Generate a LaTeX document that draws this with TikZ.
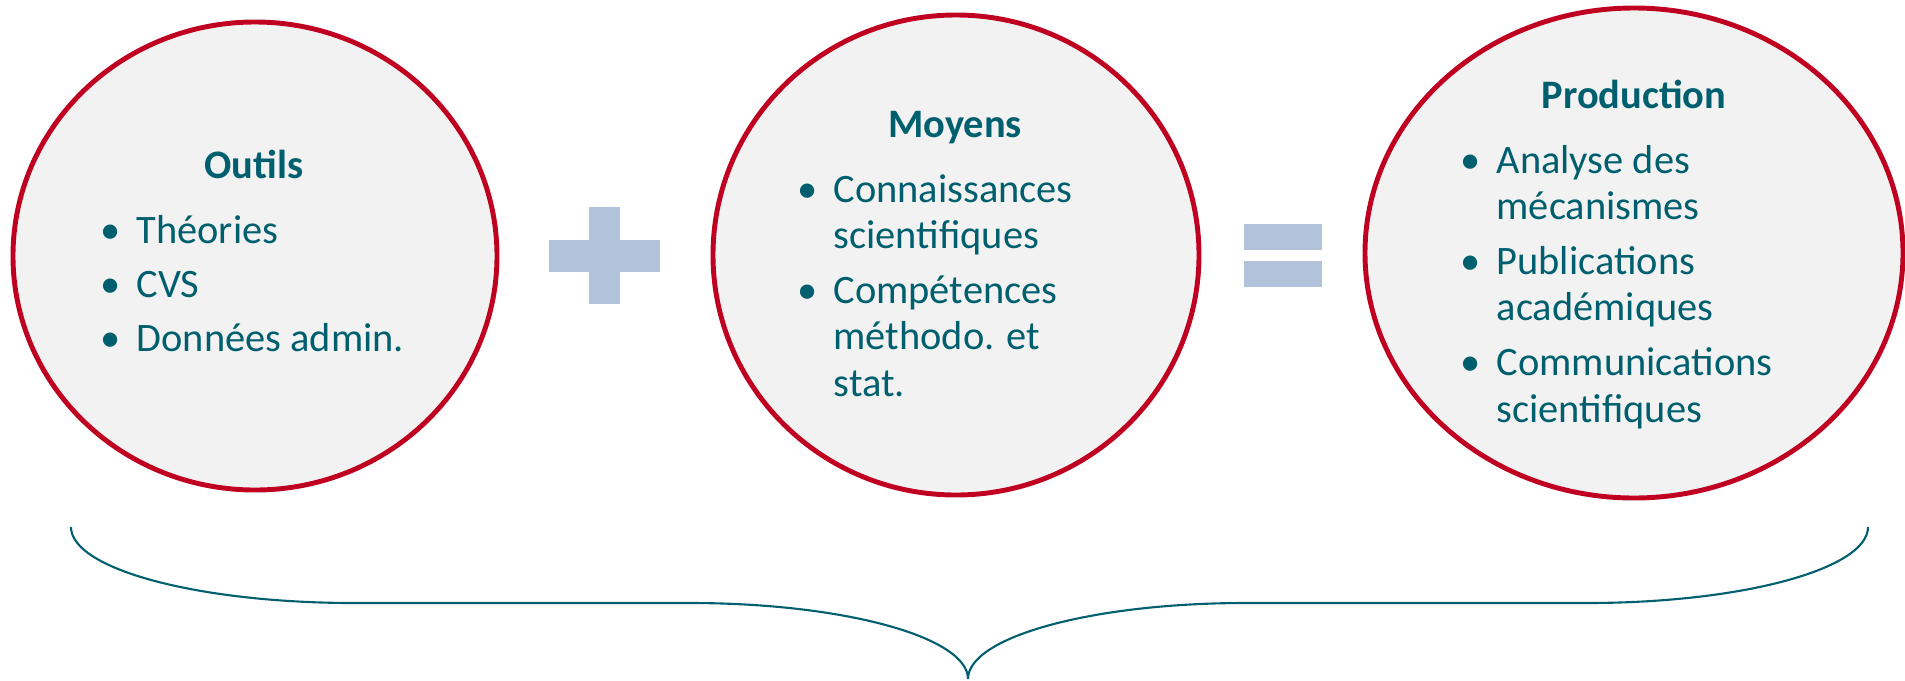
\documentclass[tikz,border=0pt]{standalone}
\usepackage{fontspec}
\setmainfont{Carlito}
\usepackage{tikz}
\usetikzlibrary{positioning,shapes.geometric}
\definecolor{tealtext}{HTML}{005F6E}
\definecolor{bubblered}{HTML}{C00020}
\definecolor{bubblegrey}{HTML}{F2F2F2}
\definecolor{signblue}{HTML}{B1C2DA}

\begin{document}
\begin{tikzpicture}
[font=\fontsize{11.5}{13.3}\selectfont, text=tealtext,
% STYLES
% The bubble style draws the three grey ellipses
bubble/.style={ellipse, draw=bubblered, line width=1.4pt, fill=bubblegrey, inner sep=0pt},
% The heading style is used for the bold titles
heading/.style={anchor=base, font=\fontsize{11.5}{13.3}\selectfont\bfseries},
% The items style is used for the bullet lists
items/.style={anchor=base west, inner sep=0pt},
sign/.style={fill=signblue},
bracestroke/.style={draw=tealtext, line width=0.6pt}]

\useasboundingbox (0,0) rectangle (19.05,6.80);

% Draw bubbles
\node [bubble, minimum width=4.84cm, minimum height=4.68cm] (outils) at (2.55,4.24) {};
\node [bubble, minimum width=4.86cm, minimum height=4.80cm] (moyens) at (9.56,4.25) {};
\node [bubble, minimum width=5.38cm, minimum height=4.90cm] (production) at (16.34,4.27) {};

% outils
\node [heading] (outils-title) at (2.54,5.02) {Outils};
\node [items] (outils-list) at (1.00,4.37) {\begin{tabular}[t]{@{}l@{\hspace{4.5pt}}l@{}}
\textbullet & Théories\\[2.2pt]
\textbullet & CVS\\[2.2pt]
\textbullet & Données admin.
\end{tabular}};

% moyens
\node [heading] (moyens-title) at (9.55,5.43) {Moyens};
\node [items] (moyens-list) at (7.97,4.78) {\begin{tabular}[t]{@{}l@{\hspace{4.5pt}}l@{}}
\textbullet & Connaissances\\
 & scientifiques\\[2.2pt]
\textbullet & Compétences\\
 & méthodo. et\\
 & stat.
\end{tabular}};

% production
\node [heading] (production-title) at (16.34,5.72) {Production};
\node [items] (production-list) at (14.60,5.07) {\begin{tabular}[t]{@{}l@{\hspace{4.5pt}}l@{}}
\textbullet & Analyse des\\
 & mécanismes\\[2.2pt]
\textbullet & Publications\\
 & académiques\\[2.2pt]
\textbullet & Communications\\
 & scientifiques
\end{tabular}};

% Plus and equals signs
\fill [sign] (5.49,4.08) rectangle (6.60,4.40);
\fill [sign] (5.89,3.76) rectangle (6.20,4.73);
\fill [sign] (12.44,4.30) rectangle (13.22,4.56);
\fill [sign] (12.44,3.93) rectangle (13.22,4.19);

% Brace under the bubbles
\coordinate (brace-left) at (0.71,1.53);
\coordinate (brace-right) at (18.68,1.53);
\path [bracestroke] (brace-left)
  arc [start angle=180, end angle=270, x radius=2.83, y radius=0.76] -- (6.90,0.77)
  arc [start angle=90, end angle=0, x radius=2.78, y radius=0.76]
  arc [start angle=180, end angle=90, x radius=2.77, y radius=0.76] -- (15.87,0.77)
  arc [start angle=270, end angle=360, x radius=2.81, y radius=0.76];

\end{tikzpicture}
\end{document}
